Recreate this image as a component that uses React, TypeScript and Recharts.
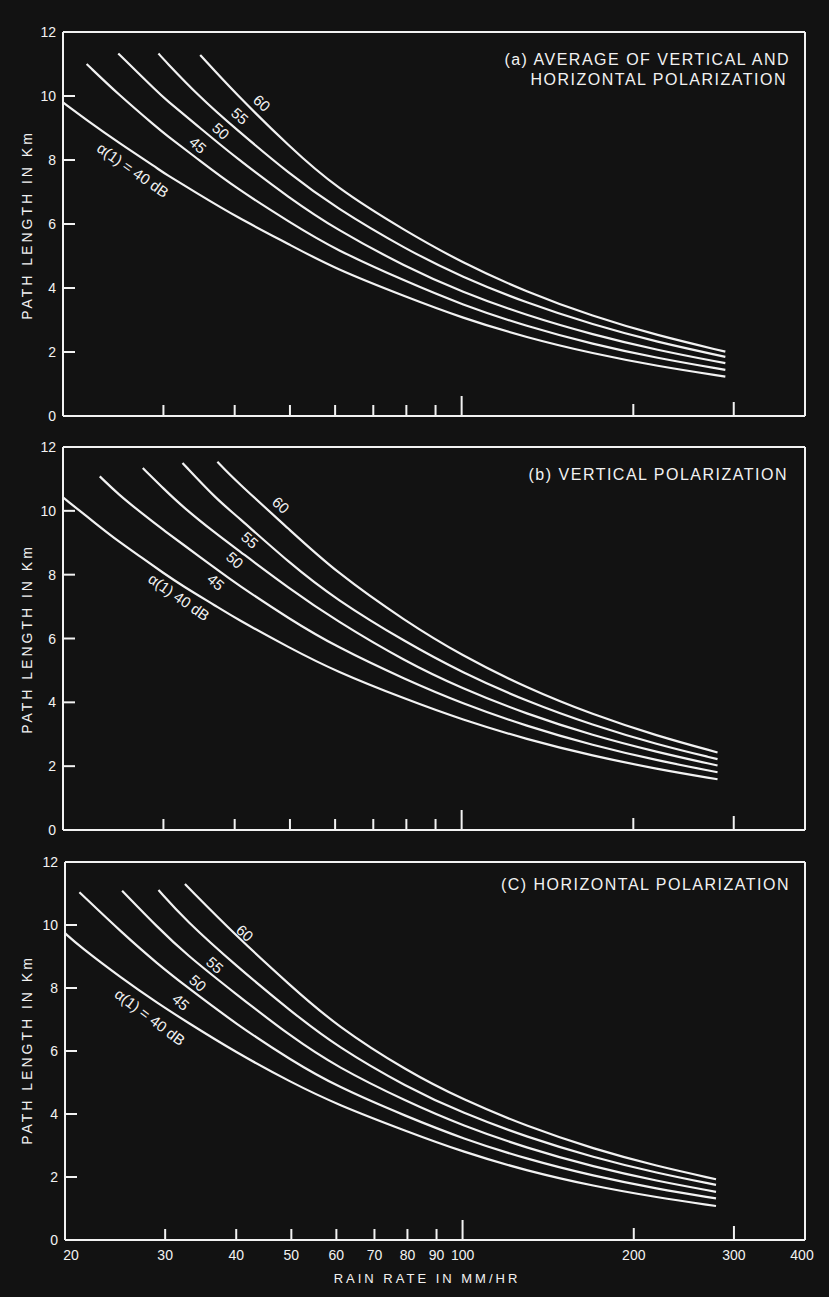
import { Line, LineChart, ReferenceLine, XAxis, YAxis } from "recharts";

const INK = "#f2f2f2";
const PAPER = "#121212";
const FONT = "'Liberation Sans', Arial, sans-serif";

const dbLevels = ["40", "45", "50", "55", "60"];
const yTicks = [0, 2, 4, 6, 8, 10, 12];
const xTicks = [20, 30, 40, 50, 60, 70, 80, 90, 100, 200, 300, 400];

// (a) average of vertical and horizontal polarization
const ratesA = [20, 22, 25, 29.4, 30, 34.8, 40, 50, 60, 80, 100, 130, 170, 220, 290];
const avg40 = [9.8, 9.25, 8.55, 7.72, 7.6, 6.9, 6.25, 5.35, 4.6, 3.72, 3.07, 2.45, 1.95, 1.56, 1.23];
const avg45 = [null, 11.0, 10.05, 8.98, 8.85, 7.97, 7.15, 6.05, 5.2, 4.2, 3.48, 2.8, 2.24, 1.81, 1.44];
const avg50 = [null, null, 11.33, 10.1, 9.95, 9.0, 8.1, 6.8, 5.85, 4.65, 3.88, 3.14, 2.54, 2.06, 1.65];
const avg55 = [null, null, null, 11.33, 11.15, 9.95, 9.0, 7.55, 6.52, 5.2, 4.35, 3.53, 2.85, 2.31, 1.85];
const avg60 = [null, null, null, null, null, 11.28, 10.1, 8.4, 7.15, 5.76, 4.8, 3.87, 3.11, 2.52, 2.01];

// (b) vertical polarization
const ratesB = [20, 23.2, 25, 27.6, 30, 32.4, 37.3, 40, 50, 60, 80, 100, 130, 170, 220, 281];
const vert40 = [10.42, 9.5, 9.05, 8.51, 8.05, 7.65, 6.99, 6.65, 5.7, 4.98, 4.09, 3.46, 2.84, 2.32, 1.91, 1.59];
const vert45 = [null, 11.08, 10.52, 9.9, 9.4, 8.96, 8.15, 7.75, 6.6, 5.76, 4.7, 3.97, 3.25, 2.65, 2.18, 1.81];
const vert50 = [null, null, null, 11.34, 10.7, 10.13, 9.25, 8.85, 7.55, 6.58, 5.26, 4.44, 3.63, 2.96, 2.44, 2.02];
const vert55 = [null, null, null, null, null, 11.5, 10.34, 9.9, 8.35, 7.24, 5.87, 4.94, 4.03, 3.28, 2.68, 2.22];
const vert60 = [null, null, null, null, null, null, 11.54, 10.97, 9.4, 8.1, 6.52, 5.47, 4.45, 3.61, 2.95, 2.43];

// (c) horizontal polarization
const ratesC = [20, 21.2, 25.2, 29.2, 32.5, 40, 50, 60, 80, 100, 130, 170, 220, 279];
const horiz40 = [9.74, 9.33, 8.3, 7.5, 6.96, 5.95, 5.0, 4.31, 3.44, 2.8, 2.19, 1.71, 1.35, 1.08];
const horiz45 = [null, 11.04, 9.75, 8.74, 8.08, 6.85, 5.7, 4.88, 3.91, 3.22, 2.56, 2.03, 1.62, 1.32];
const horiz50 = [null, null, 11.09, 9.9, 9.1, 7.8, 6.45, 5.5, 4.38, 3.63, 2.91, 2.32, 1.87, 1.53];
const horiz55 = [null, null, null, 11.11, 10.17, 8.7, 7.25, 6.15, 4.84, 4.03, 3.26, 2.62, 2.12, 1.75];
const horiz60 = [null, null, null, null, 11.3, 9.65, 8.05, 6.8, 5.35, 4.46, 3.6, 2.89, 2.34, 1.93];

type Row = { rate: number; [key: string]: number | null };

const buildRows = (rates: number[], series: (number | null)[][]): Row[] =>
  rates.map((rate, i) => {
    const row: Row = { rate };
    dbLevels.forEach((db, k) => {
      row["d" + db] = series[k][i];
    });
    return row;
  });

const rowsA = buildRows(ratesA, [avg40, avg45, avg50, avg55, avg60]);
const rowsB = buildRows(ratesB, [vert40, vert45, vert50, vert55, vert60]);
const rowsC = buildRows(ratesC, [horiz40, horiz45, horiz50, horiz55, horiz60]);

const tickLength: Record<number, number> = { 100: 20, 200: 12, 300: 14 };

function XTick(props: any) {
  const { x, y, payload, showLabel } = props;
  const v = payload.value;
  const inner = v !== 20 && v !== 400;
  const dx = v === 20 ? 6 : v === 400 ? -3 : 0;
  return (
    <g>
      {inner && <line x1={x} x2={x} y1={y} y2={y - (tickLength[v] || 11)} stroke={INK} strokeWidth={2} />}
      {showLabel && (
        <text x={x + dx} y={y + 20} textAnchor="middle" fill={INK} fontSize={14} fontFamily={FONT}>
          {v}
        </text>
      )}
    </g>
  );
}

function YTick(props: any) {
  const { x, y, payload } = props;
  const v = payload.value;
  return (
    <g>
      {v !== 0 && v !== 12 && <line x1={x} x2={x + 12} y1={y} y2={y} stroke={INK} strokeWidth={2} />}
      <text x={x - 7} y={y + 5} textAnchor="end" fill={INK} fontSize={14} fontFamily={FONT}>
        {v}
      </text>
    </g>
  );
}

type PanelProps = {
  top: number;
  height: number;
  plotTop: number;
  axisHeight: number;
  left: number;
  rows: Row[];
  showLabels?: boolean;
};

function Panel({ top, height, plotTop, axisHeight, left, rows, showLabels }: PanelProps) {
  return (
    <div style={{ position: "absolute", top, left: 0 }}>
      <LineChart width={829} height={height} data={rows} margin={{ top: plotTop, right: 24, bottom: 0, left: 0 }}>
        <XAxis
          dataKey="rate"
          type="number"
          scale="log"
          domain={[20, 400]}
          allowDataOverflow
          ticks={xTicks}
          interval={0}
          height={axisHeight}
          tickSize={0}
          tickMargin={0}
          tickLine={false}
          axisLine={{ stroke: INK, strokeWidth: 2 }}
          tick={(p: any) => <XTick {...p} showLabel={showLabels} />}
        />
        <YAxis
          type="number"
          domain={[0, 12]}
          allowDataOverflow
          ticks={yTicks}
          interval={0}
          width={left}
          tickSize={0}
          tickMargin={0}
          tickLine={false}
          axisLine={{ stroke: INK, strokeWidth: 2 }}
          tick={(p: any) => <YTick {...p} />}
        />
        <ReferenceLine y={12} stroke={INK} strokeWidth={2} />
        <ReferenceLine x={400} stroke={INK} strokeWidth={2} />
        {dbLevels.map((db) => (
          <Line
            key={db}
            dataKey={"d" + db}
            type="basis"
            stroke={INK}
            strokeWidth={2.2}
            dot={false}
            activeDot={false}
            isAnimationActive={false}
          />
        ))}
      </LineChart>
    </div>
  );
}

function Label({ x, y, angle, children, size = 15 }: any) {
  return (
    <text
      x={x}
      y={y}
      transform={`rotate(${angle} ${x} ${y})`}
      textAnchor="middle"
      dominantBaseline="central"
      fill={INK}
      fontSize={size}
      fontFamily={FONT}
    >
      {children}
    </text>
  );
}

function Annotations() {
  const title = { fill: INK, fontSize: 16, fontFamily: FONT, letterSpacing: 1.5, textAnchor: "end" as const };
  const yTitle = { fill: INK, fontSize: 14, fontFamily: FONT, letterSpacing: 3, textAnchor: "middle" as const };
  return (
    <svg width={829} height={1297} style={{ position: "absolute", top: 0, left: 0, pointerEvents: "none" }}>
      <text x={790} y={65} {...title}>(a)  AVERAGE OF VERTICAL AND</text>
      <text x={787} y={85} {...title}>HORIZONTAL POLARIZATION</text>
      <text x={788} y={480} {...title}>(b)  VERTICAL POLARIZATION</text>
      <text x={790} y={890} {...title}>(C)  HORIZONTAL POLARIZATION</text>

      <text x={27} y={225} transform="rotate(-90 27 225)" dominantBaseline="central" {...yTitle}>PATH LENGTH IN Km</text>
      <text x={27} y={639} transform="rotate(-90 27 639)" dominantBaseline="central" {...yTitle}>PATH LENGTH IN Km</text>
      <text x={27} y={1050} transform="rotate(-90 27 1050)" dominantBaseline="central" {...yTitle}>PATH LENGTH IN Km</text>

      <text x={427} y={1283} textAnchor="middle" fill={INK} fontSize={13} fontFamily={FONT} letterSpacing={3}>
        RAIN RATE IN MM/HR
      </text>

      <Label x={262} y={103} angle={42}>60</Label>
      <Label x={240} y={116} angle={42}>55</Label>
      <Label x={221} y={131} angle={42}>50</Label>
      <Label x={198} y={145} angle={42}>45</Label>
      <Label x={133} y={170} angle={35}>α(1) = 40 dB</Label>

      <Label x={281} y={505} angle={42}>60</Label>
      <Label x={250} y={540} angle={42}>55</Label>
      <Label x={235} y={560} angle={42}>50</Label>
      <Label x={216} y={582} angle={42}>45</Label>
      <Label x={179} y={597} angle={35}>α(1)    40 dB</Label>

      <Label x={245} y={933} angle={42}>60</Label>
      <Label x={215} y={965} angle={42}>55</Label>
      <Label x={198} y={983} angle={42}>50</Label>
      <Label x={181} y={1002} angle={42}>45</Label>
      <Label x={150} y={1017} angle={37}>α(1) = 40 dB</Label>
    </svg>
  );
}

export default function App() {
  return (
    <div style={{ position: "absolute", top: 0, left: 0, width: 829, height: 1297, background: PAPER, overflow: "hidden" }}>
      <Panel top={0} height={440} plotTop={32} axisHeight={24} left={63} rows={rowsA} />
      <Panel top={430} height={420} plotTop={17} axisHeight={20} left={63} rows={rowsB} />
      <Panel top={845} height={452} plotTop={17} axisHeight={57} left={65} rows={rowsC} showLabels />
      <Annotations />
    </div>
  );
}
